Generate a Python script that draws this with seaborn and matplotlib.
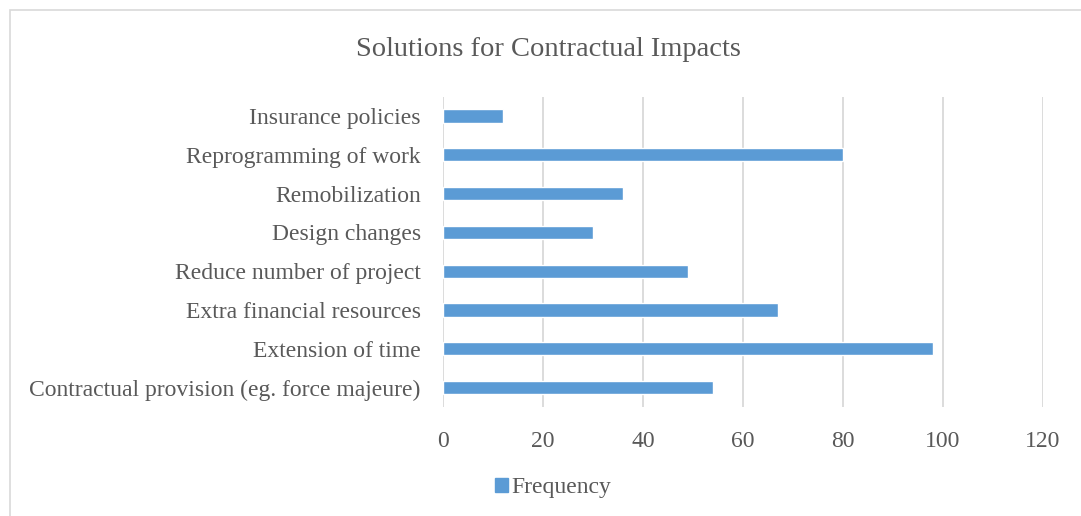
import matplotlib
matplotlib.use("Agg")
import matplotlib.pyplot as plt
import matplotlib.patches as mpatches
import seaborn as sns
import pandas as pd

solutions = [
    "Insurance policies",
    "Reprogramming of work",
    "Remobilization",
    "Design changes",
    "Reduce number of project",
    "Extra financial resources",
    "Extension of time",
    "Contractual provision (eg. force majeure)",
]
frequency = [12, 80, 36, 30, 49, 67, 98, 54]
x_ticks = [0, 20, 40, 60, 80, 100, 120]
title_text = "Solutions for Contractual Impacts"
series_name = "Frequency"

sns.set_theme(style="white")
plt.rcParams["font.family"] = ["Liberation Serif", "DejaVu Serif"]

text_color = "#595959"
bar_color = "#5b9bd5"
grid_color = "#d9d9d9"

df = pd.DataFrame({"Solution": solutions, series_name: frequency})

W, H = 1081, 516
fig = plt.figure(figsize=(W / 100, H / 100), dpi=100)
ax = fig.add_axes([443 / W, 1 - 407 / H, (1043 - 443) / W, (407 - 96.5) / H])

sns.barplot(data=df, y="Solution", x=series_name, orient="h", color=bar_color,
            width=0.34, saturation=1, ax=ax, zorder=3)

ax.set_xlim(0, 120)
ax.set_xticks(x_ticks)
ax.set_xticklabels([str(t) for t in x_ticks], fontsize=17, color=text_color)
ax.tick_params(axis="x", length=0, pad=17)
ax.tick_params(axis="y", length=0, pad=16)
for lbl in ax.get_yticklabels():
    lbl.set_fontsize(17)
    lbl.set_color(text_color)
ax.set_xlabel("")
ax.set_ylabel("")
ax.xaxis.grid(True, color=grid_color, linewidth=1.3, zorder=0)
ax.yaxis.grid(False)
for s in ax.spines.values():
    s.set_visible(False)

fig.text(548 / W, 1 - 50 / H, title_text, ha="center", va="center",
         fontsize=20.5, color=text_color)

handle = mpatches.Patch(color=bar_color, label=series_name)
fig.legend(handles=[handle], loc="center", bbox_to_anchor=(553 / W, 1 - 488 / H),
           frameon=False, fontsize=17, handlelength=0.55, handleheight=0.55,
           handletextpad=0.15, labelcolor=text_color)

# chart frame
fig.add_artist(mpatches.Rectangle((10 / W, -0.1), 1.2, 1 - 10 / H + 0.1,
                                  transform=fig.transFigure, fill=False,
                                  edgecolor="#d9d9d9", linewidth=1.2))

fig.savefig("out.png", dpi=100, facecolor="white")
